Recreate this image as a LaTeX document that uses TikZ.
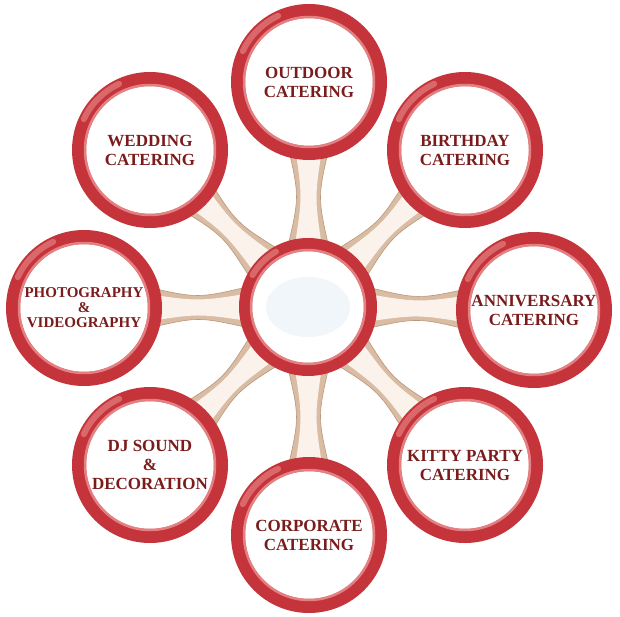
\documentclass[tikz,border=0pt]{standalone}
\usepackage{fontspec}
\setmainfont{Liberation Serif}
\usetikzlibrary{calc, positioning, backgrounds}
\definecolor{cRing}{RGB}{196,52,58}
\definecolor{cRingLite}{RGB}{228,128,130}
\definecolor{cGloss}{RGB}{218,104,106}
\definecolor{cText}{RGB}{122,28,28}
\definecolor{cStem}{RGB}{216,188,164}
\definecolor{cStemLite}{RGB}{251,243,235}
\definecolor{cStemEdge}{RGB}{188,150,122}
\definecolor{cBlob}{RGB}{241,246,250}

\begin{document}
\begin{tikzpicture}[x=1pt, y=-1pt,
    ring/.style={circle, minimum size=142pt, inner sep=0pt, draw=cRing, line width=14pt,
      fill=white, text=cText, align=center, font=\bfseries\fontsize{17}{19}\selectfont},
    hubring/.style={circle, minimum size=125pt, inner sep=0pt, draw=cRing, line width=13pt, fill=white},
    stem/.style={fill=cStem, draw=cStemEdge, line width=0.6pt},
    stemlite/.style={fill=cStemLite},
    ringlite/.style={draw=cRingLite, line width=2.5pt},
    gloss/.style={draw=cGloss, line width=6pt, line cap=round}]
    \useasboundingbox (0,0) rectangle (620,617);

    % hub in the middle
    \node[hubring] (hub) at (308,307) {};

    % service circles
    \node[ring] (outdoor) at (309,82) {OUTDOOR\\CATERING};
    \node[ring] (birthday) at (465,150) {BIRTHDAY\\CATERING};
    \node[ring] (anniv) at (534,310) {ANNIVERSARY\\CATERING};
    \node[ring] (kitty) at (465,465) {KITTY PARTY\\CATERING};
    \node[ring] (corporate) at (309,535) {CORPORATE\\CATERING};
    \node[ring] (djsound) at (150,465) {DJ SOUND\\\&\\DECORATION};
    \node[ring, font=\bfseries\fontsize{15}{15}\selectfont] (photo) at (84,308) {PHOTOGRAPHY\\\&\\VIDEOGRAPHY};
    \node[ring] (wedding) at (150,150) {WEDDING\\CATERING};

    % stems from hub to each circle
    \begin{scope}[on background layer]
    \foreach \n in {outdoor,birthday,anniv,kitty,corporate,djsound,photo,wedding}{
      \coordinate (s1) at ($(hub.center)!58pt!(\n.center)$);
      \coordinate (s2) at ($(hub.center)!162pt!(\n.center)$);
      \coordinate (sm) at ($(s1)!0.5!(s2)$);
      \path[stem] ($(s1)!21pt!90:(s2)$) .. controls ($(sm)!9pt!90:(s2)$) .. ($(s2)!21pt!-90:(s1)$)
        -- ($(s2)!21pt!90:(s1)$) .. controls ($(sm)!9pt!-90:(s2)$) .. ($(s1)!21pt!-90:(s2)$) -- cycle;
      \fill[stemlite] ($(s1)!14pt!90:(s2)$) .. controls ($(sm)!6pt!90:(s2)$) .. ($(s2)!14pt!-90:(s1)$)
        -- ($(s2)!14pt!90:(s1)$) .. controls ($(sm)!6pt!-90:(s2)$) .. ($(s1)!14pt!-90:(s2)$) -- cycle;
    }
    \end{scope}

    % inner edge and gloss on the rings
    \foreach \n in {outdoor,birthday,anniv,kitty,corporate,djsound,photo,wedding}{
      \draw[ringlite] (\n.center) circle (65);
      \draw[gloss] ($(\n.center)+(205:73)$) arc (205:245:73);
    }
    \draw[ringlite] (hub.center) circle (57);
    \draw[gloss] ($(hub.center)+(210:64)$) arc (210:240:64);

    % faint patch inside the hub
    \fill[cBlob] (hub.center) ellipse (42 and 30);
\end{tikzpicture}
\end{document}
